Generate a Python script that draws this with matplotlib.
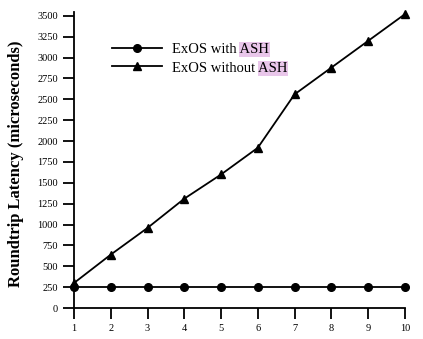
import matplotlib
matplotlib.use("Agg")
import matplotlib.pyplot as plt
from matplotlib.patches import Rectangle

plt.rcParams["font.family"] = ["Liberation Serif", "DejaVu Serif"]

# 数据
x = [1, 2, 3, 4, 5, 6, 7, 8, 9, 10]
with_ash = [250, 250, 250, 250, 250, 250, 250, 250, 250, 250]
without_ash = [300, 640, 960, 1310, 1600, 1920, 2560, 2880, 3200, 3520]
yticks = list(range(0, 3501, 250))

fig = plt.figure(figsize=(4.23, 3.39), dpi=100)
ax = fig.add_axes([0.175, 0.0914, 0.782, 0.874])

ax.plot(x, with_ash, color="black", marker="o", markersize=5.5, linewidth=1.3,
        label="ExOS with ASH", clip_on=False, zorder=3)
ax.plot(x, without_ash, color="black", marker="^", markersize=5.5, linewidth=1.3,
        label="ExOS without ASH", clip_on=False, zorder=3)

ax.set_xlim(1, 10)
ax.set_ylim(0, 3550)
ax.set_xticks(x)
ax.set_yticks(yticks)
ax.tick_params(axis="both", direction="out", length=8, width=1.3, labelsize=7.5)
ax.spines["top"].set_visible(False)
ax.spines["right"].set_visible(False)
ax.spines["left"].set_linewidth(1.3)
ax.spines["bottom"].set_linewidth(1.3)

ax.set_ylabel("Roundtrip Latency (microseconds)", fontsize=12, fontweight="bold")
ax.yaxis.set_label_coords(-0.15, 0.486)

leg = ax.legend(loc="upper left", bbox_to_anchor=(0.075, 0.94), frameon=False,
                fontsize=10.5, handlelength=3.4, handletextpad=0.7, labelspacing=0.38)

# 高亮 "ASH"
fig.canvas.draw()
r = fig.canvas.get_renderer()
for t in leg.get_texts():
    s = t.get_text()
    bb = t.get_window_extent(r)
    pre = fig.text(0, 0, s[:-3], fontsize=10.5)
    w_pre = pre.get_window_extent(r).width
    pre.remove()
    full = fig.text(0, 0, s, fontsize=10.5)
    w_full = full.get_window_extent(r).width
    full.remove()
    x0 = bb.x0 + w_pre
    w = w_full - w_pre
    fw, fh = fig.bbox.width, fig.bbox.height
    ax.add_patch(Rectangle(((x0 - 1) / fw, (bb.y0 - 1) / fh), (w + 2) / fw, (bb.height + 2) / fh,
                           transform=fig.transFigure, facecolor="#e9c6ea",
                           edgecolor="none", zorder=1, clip_on=False))

plt.savefig("out.png", dpi=100)
